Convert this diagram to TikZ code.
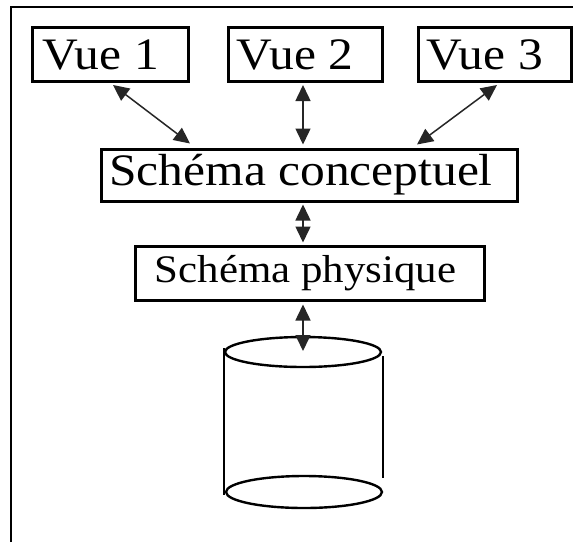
\documentclass[tikz,border=0pt]{standalone}
\usepackage{fontspec}
\setmainfont{Liberation Serif}[FakeStretch=1.1]
\usetikzlibrary{arrows.meta}

\tikzset{
  box/.style={draw=black, line width=3pt, inner sep=0pt, rectangle},
  bigtext/.style={font=\fontsize{45}{50}\selectfont},
  midtext/.style={font=\fontsize{39}{44}\selectfont},
  link/.style={line width=1.5pt, draw=black!85,
    {Triangle[length=16pt,width=15pt]}-{Triangle[length=16pt,width=15pt]}},
  edge/.style={line width=2.8pt, line cap=butt},
  rim/.style={line width=2.4pt}
}
% trailing space pushes a label towards the left side of its box
\newcommand{\leftpad}[2]{#1\hspace*{#2}}

\begin{document}
\begin{tikzpicture}[x=1pt, y=-1pt]
  \useasboundingbox (0,0) rectangle (573,542);
  \fill[white] (0,0) rectangle (573,542);

  % outer frame (top and left sides)
  \draw[line width=2.6pt] (11,542) -- (11,7) -- (573,7);

  % views
  \node[box, bigtext, minimum width=156pt, minimum height=54pt] (vue1) at (110.5,54.5) {\leftpad{Vue 1}{20pt}};
  \node[box, bigtext, minimum width=154pt, minimum height=54pt] (vue2) at (305,54.5) {\leftpad{Vue 2}{20pt}};
  \node[box, bigtext, minimum width=153pt, minimum height=54pt] (vue3) at (494.5,54.5) {\leftpad{Vue 3}{20pt}};

  % schemas
  \node[box, bigtext, minimum width=416pt, minimum height=52pt] (conc) at (309,175) {\leftpad{Schéma conceptuel}{16pt}};
  \node[box, midtext, minimum width=349pt, minimum height=54pt] (phys) at (309.5,273) {\leftpad{Schéma physique}{8pt}};

  % database cylinder
  \coordinate (dbtop) at (303,352);
  \coordinate (dbbot) at (304,492);
  \draw[rim] (dbtop) ellipse [x radius=78pt, y radius=15pt];
  \draw[rim] (dbbot) ellipse [x radius=78pt, y radius=16pt];
  \draw[edge] (224,348) -- (224,495);
  \draw[edge] (383,356) -- (383,478);

  % links
  \draw[link] ([xshift=2.5pt, yshift=-2pt]vue1.south) -- ([xshift=-119pt, yshift=4pt]conc.north);
  \draw[link] ([xshift=-2pt, yshift=-2pt]vue2.south) -- ([xshift=-6pt, yshift=3pt]conc.north);
  \draw[link] ([xshift=2.5pt, yshift=-2pt]vue3.south) -- ([xshift=108pt, yshift=3pt]conc.north);
  \draw[link] ([xshift=-6pt, yshift=-2pt]conc.south) -- ([xshift=-6.5pt, yshift=2pt]phys.north);
  \draw[link] ([xshift=-6.5pt, yshift=-3pt]phys.south) -- ([yshift=1pt]dbtop);
\end{tikzpicture}
\end{document}
